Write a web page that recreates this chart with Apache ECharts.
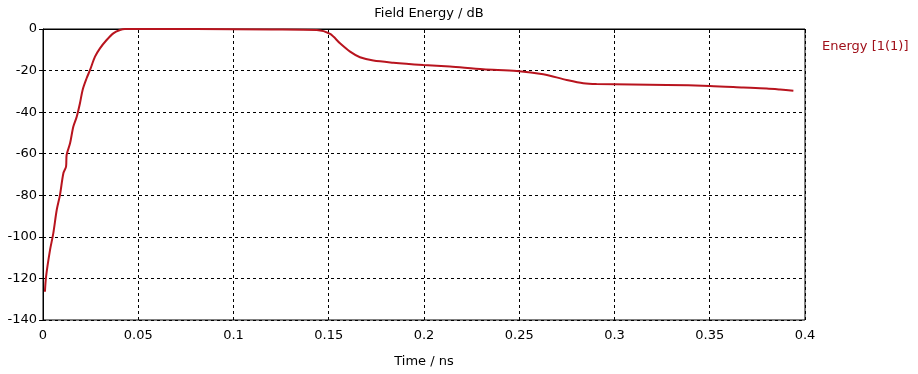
<!DOCTYPE html>
<html>
<head>
<meta charset="utf-8">
<title>Field Energy</title>
<script src="https://cdn.jsdelivr.net/npm/echarts@6/dist/echarts.min.js"></script>
<style>
  html, body { margin: 0; padding: 0; background: #fff; }
  #chart { width: 918px; height: 374px; }
</style>
</head>
<body>
<div id="chart"></div>
<script>
// time in ns
var timeNs = [0.001, 0.0016, 0.0037, 0.0054, 0.0072, 0.0089, 0.0107, 0.0121, 0.0124, 0.0142,
  0.0159, 0.0177, 0.0194, 0.0208, 0.0229, 0.0247, 0.0273, 0.0299, 0.0334, 0.0369,
  0.0404, 0.043, 0.08, 0.12, 0.1437, 0.1507, 0.1559, 0.1612, 0.1664, 0.1734,
  0.1839, 0.1997, 0.2136, 0.2311, 0.2487, 0.2626, 0.2749, 0.2836, 0.2906, 0.3274,
  0.35, 0.3676, 0.3799, 0.3869, 0.3939]
// energy in dB
var energyDb = [-126.4, -119.2, -106.3, -98.3, -87.1, -79.9, -69.4, -66.2, -60.6, -55,
  -47, -42.2, -35.7, -29.3, -23.7, -19.7, -13.3, -9.3, -5.3, -2.1,
  -0.5, 0, 0, -0.2, -0.5, -2.4, -6.9, -10.9, -13.6, -15.2,
  -16.2, -17.3, -18.1, -19.4, -20.2, -21.8, -24.5, -26.1, -26.5, -26.9,
  -27.4, -28.1, -28.6, -29.1, -29.7]

var chart = echarts.init(document.getElementById('chart'))
var font = 'Tahoma, "DejaVu Sans", sans-serif'

chart.setOption({
  animation: false,
  backgroundColor: '#fff',
  title: {
    text: 'Field Energy / dB',
    left: 424,
    textAlign: 'center',
    top: 2,
    textStyle: { fontFamily: font, fontSize: 13, fontWeight: 'normal', color: '#000' }
  },
  legend: {
    data: ['Energy [1(1)]'],
    left: 812,
    top: 35,
    icon: 'none',
    itemWidth: 0,
    itemGap: 0,
    textStyle: { fontFamily: font, fontSize: 13, color: '#a0101a' }
  },
  grid: {
    left: 43,
    right: 113,
    top: 29,
    bottom: 54,
    show: true,
    borderColor: '#000',
    borderWidth: 1,
    backgroundColor: '#fff'
  },
  xAxis: {
    type: 'value',
    min: 0,
    max: 0.4,
    interval: 0.05,
    name: 'Time / ns',
    nameLocation: 'middle',
    nameGap: 35,
    nameTextStyle: { fontFamily: font, fontSize: 13, color: '#000' },
    axisLine: { lineStyle: { color: '#000' } },
    axisTick: { length: 4, lineStyle: { color: '#000' } },
    axisLabel: { fontFamily: font, fontSize: 13, color: '#000', margin: 9 },
    splitLine: { lineStyle: { color: '#000', type: [3, 3], width: 1 } }
  },
  yAxis: {
    type: 'value',
    min: -140,
    max: 0,
    interval: 20,
    axisLine: { show: true, lineStyle: { color: '#000' } },
    axisTick: { show: true, length: 4, lineStyle: { color: '#000' } },
    axisLabel: { fontFamily: font, fontSize: 13, color: '#000', margin: 6 },
    splitLine: { lineStyle: { color: '#000', type: [3, 3], width: 1 } }
  },
  series: [{
    name: 'Energy [1(1)]',
    type: 'line',
    data: timeNs.map(function (t, i) { return [t, energyDb[i]] }),
    showSymbol: false,
    smooth: 0.3,
    lineStyle: { color: '#b8141e', width: 2 },
    itemStyle: { color: '#b8141e' }
  }]
})
</script>
</body>
</html>
